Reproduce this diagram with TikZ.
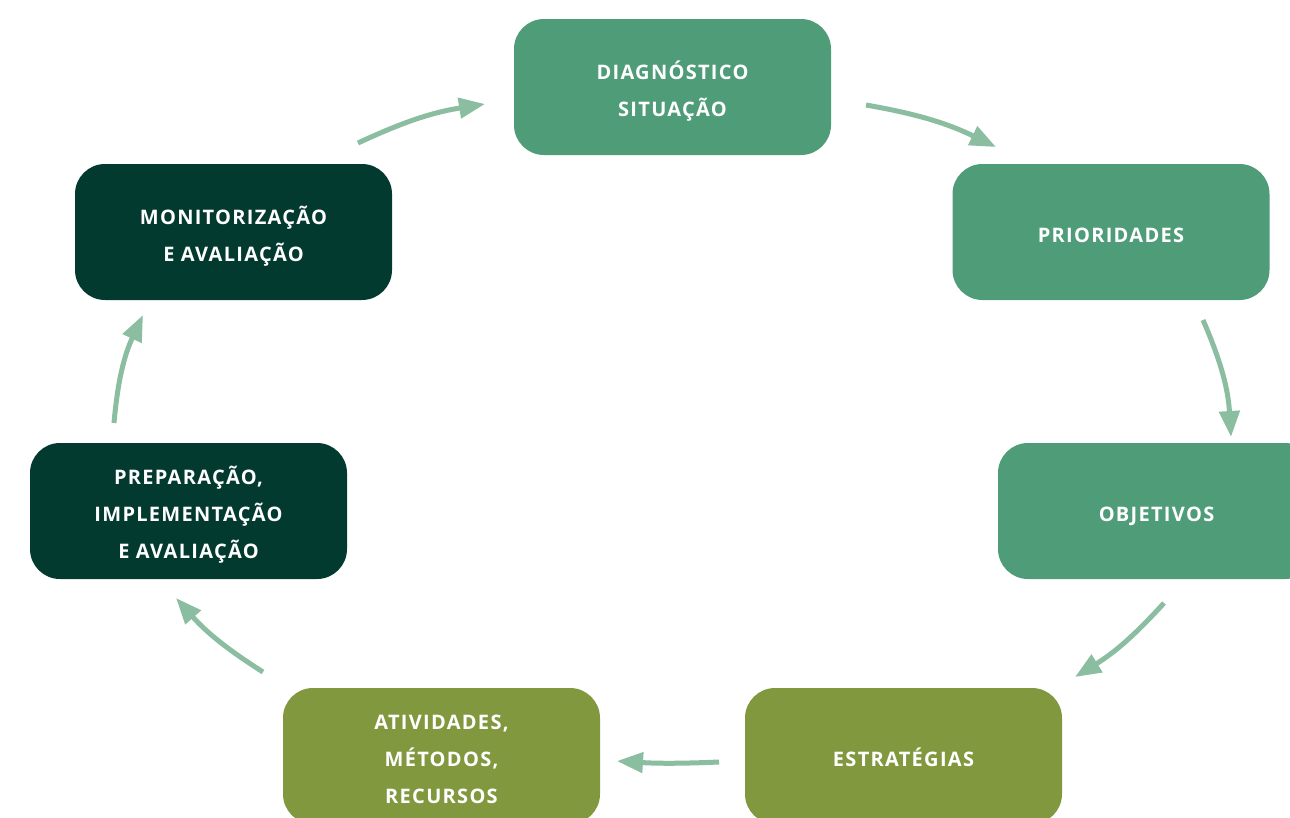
\documentclass[tikz,border=0pt]{standalone}
\usepackage{fontspec}
\newfontfamily\labfont[LetterSpace=6.5]{Open Sans}
\usetikzlibrary{arrows.meta}
\definecolor{midgreen}{HTML}{4F9C79}
\definecolor{darkgreen}{HTML}{033A2F}
\definecolor{olive}{HTML}{82983E}
\definecolor{arrowgreen}{HTML}{8BBDA1}
\tikzset{
  stepbox/.style={rectangle, rounded corners=30pt, minimum width=317pt, minimum height=136pt, inner sep=0pt, draw=none},
  steptext/.style={text=white, align=center, inner sep=0pt, font=\labfont\bfseries\fontsize{20}{37}\selectfont},
  cyclearrow/.style={draw=arrowgreen, line width=5pt, -{Triangle[length=26pt,width=20pt]}},
}
\begin{document}
\begin{tikzpicture}[x=1pt,y=-1pt]
\useasboundingbox (0,0) rectangle (1290,817);
\begin{scope}
\clip (0,0) rectangle (1290,817);
\node[stepbox, fill=midgreen] (diag) at (672.5,87) {};
\node[stepbox, fill=midgreen] (prio) at (1111,232) {};
\node[stepbox, fill=midgreen] (obj) at (1156.5,511) {};
\node[stepbox, fill=olive] (estr) at (903.5,756) {};
\node[stepbox, fill=olive] (ativ) at (441.5,756) {};
\node[stepbox, fill=darkgreen] (prep) at (188.5,511) {};
\node[stepbox, fill=darkgreen] (moni) at (233.5,232) {};
\end{scope}
\node[steptext] (tdiag) at ([yshift=-3.5pt]diag.center) {\strut DIAGNÓSTICO\\\strut SITUAÇÃO};
\node[steptext] (tprio) at ([yshift=-3.5pt]prio.center) {\strut PRIORIDADES};
\node[steptext] (tobj) at ([yshift=-3.5pt]obj.center) {\strut OBJETIVOS};
\node[steptext] (testr) at ([yshift=-3.5pt]estr.center) {\strut ESTRATÉGIAS};
\node[steptext] (tativ) at ([yshift=-3.5pt]ativ.center) {\strut ATIVIDADES,\\\strut MÉTODOS,\\\strut RECURSOS};
\node[steptext] (tprep) at ([yshift=-3.5pt]prep.center) {\strut PREPARAÇÃO,\\\strut IMPLEMENTAÇÃO\\\strut E AVALIAÇÃO};
\node[steptext] (tmoni) at ([yshift=-3.5pt]moni.center) {\strut MONITORIZAÇÃO\\\strut E AVALIAÇÃO};
% arrow ends
\coordinate (a1s) at (866,105);  \coordinate (a1e) at (996,147);
\coordinate (a2s) at (1203,320); \coordinate (a2e) at (1231,437);
\coordinate (a3s) at (1164,603); \coordinate (a3e) at (1075,677);
\coordinate (a4s) at (719,762);  \coordinate (a4e) at (617,761);
\coordinate (a5s) at (263,672);  \coordinate (a5e) at (176,598);
\coordinate (a6s) at (114,423);  \coordinate (a6e) at (143,315);
\coordinate (a7s) at (358,143);  \coordinate (a7e) at (485,104);
\draw[cyclearrow] (a1s) to[bend left=8] (a1e);
\draw[cyclearrow] (a2s) to[bend left=10] (a2e);
\draw[cyclearrow] (a3s) to[bend left=8] (a3e);
\draw[cyclearrow] (a4s) to[bend left=3] (a4e);
\draw[cyclearrow] (a5s) to[bend left=8] (a5e);
\draw[cyclearrow] (a6s) to[bend left=10] (a6e);
\draw[cyclearrow] (a7s) to[bend left=8] (a7e);
\end{tikzpicture}
\end{document}
